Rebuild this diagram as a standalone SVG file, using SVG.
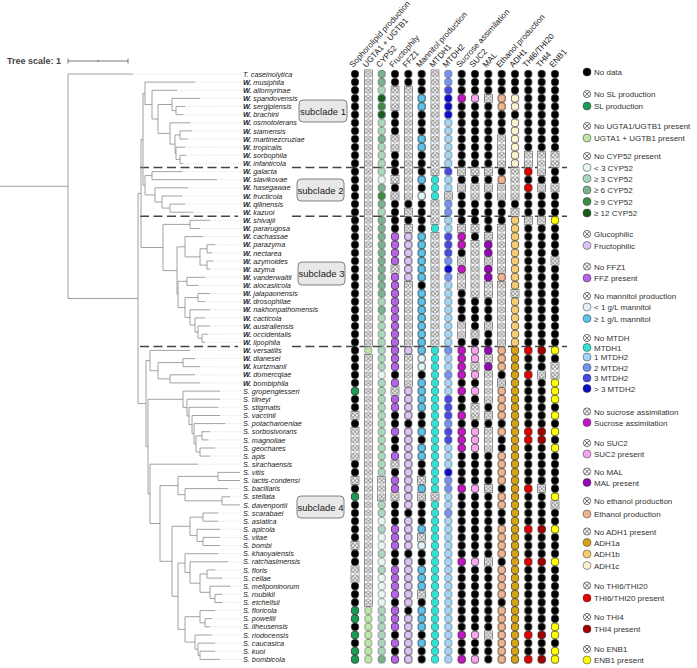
<svg xmlns="http://www.w3.org/2000/svg" width="697" height="668" viewBox="0 0 697 668">
<style>
text{font-family:"Liberation Sans",Arial,sans-serif}
.sp text{font-size:7.25px;font-style:italic;fill:#222}
.b{font-weight:bold}
.hd text{font-size:8.2px;fill:#222}
.lg text{font-size:8px;fill:#333}
.ld{stroke:#333;stroke-width:.5}
.tree{fill:none;stroke:#8a8a8a;stroke-width:.8}
.lead{fill:none;stroke:#c8c8c8;stroke-width:.6;stroke-dasharray:1 1.5}
.dash{stroke:#444;stroke-width:1.5;stroke-dasharray:9 4.5}
.n{fill:url(#pn);stroke:#555;stroke-width:.6}
.box{fill:#e8e8e8;stroke:#666;stroke-width:.8}
.bx text{font-size:9.5px;fill:#222;text-anchor:middle}
pattern circle{stroke:#333;stroke-width:.5}
</style>
<defs>
<pattern id="pk" x="-5" y="69.94" width="10" height="8.13" patternUnits="userSpaceOnUse"><circle cx="5" cy="4.065" r="3.8" fill="#000"/></pattern>
<pattern id="pn" x="-5" y="69.94" width="10" height="8.13" patternUnits="userSpaceOnUse"><rect width="10" height="8.13" fill="#fff"/><circle cx="5" cy="4.065" r="3.3" fill="none"/><path d="M2.7 1.765L7.3 6.365M7.3 1.765L2.7 6.365" stroke="#333" stroke-width=".6"/></pattern>
<pattern id="pg" x="-5" y="69.94" width="10" height="8.13" patternUnits="userSpaceOnUse"><circle cx="5" cy="4.065" r="3.8" fill="#1a9b55"/></pattern>
<pattern id="pL" x="-5" y="69.94" width="10" height="8.13" patternUnits="userSpaceOnUse"><circle cx="5" cy="4.065" r="3.8" fill="#bde3a8"/></pattern>
<pattern id="p0" x="-5" y="69.94" width="10" height="8.13" patternUnits="userSpaceOnUse"><circle cx="5" cy="4.065" r="3.8" fill="#e6f5ef"/></pattern>
<pattern id="p1" x="-5" y="69.94" width="10" height="8.13" patternUnits="userSpaceOnUse"><circle cx="5" cy="4.065" r="3.8" fill="#acd6bd"/></pattern>
<pattern id="p2" x="-5" y="69.94" width="10" height="8.13" patternUnits="userSpaceOnUse"><circle cx="5" cy="4.065" r="3.8" fill="#7db28c"/></pattern>
<pattern id="p3" x="-5" y="69.94" width="10" height="8.13" patternUnits="userSpaceOnUse"><circle cx="5" cy="4.065" r="3.8" fill="#3f8a48"/></pattern>
<pattern id="p4" x="-5" y="69.94" width="10" height="8.13" patternUnits="userSpaceOnUse"><circle cx="5" cy="4.065" r="3.8" fill="#1a5c1f"/></pattern>
<pattern id="pv" x="-5" y="69.94" width="10" height="8.13" patternUnits="userSpaceOnUse"><circle cx="5" cy="4.065" r="3.8" fill="#b464e6"/></pattern>
<pattern id="pl" x="-5" y="69.94" width="10" height="8.13" patternUnits="userSpaceOnUse"><circle cx="5" cy="4.065" r="3.8" fill="#dcc3f2"/></pattern>
<pattern id="pm" x="-5" y="69.94" width="10" height="8.13" patternUnits="userSpaceOnUse"><circle cx="5" cy="4.065" r="3.8" fill="#dff1fa"/></pattern>
<pattern id="pM" x="-5" y="69.94" width="10" height="8.13" patternUnits="userSpaceOnUse"><circle cx="5" cy="4.065" r="3.8" fill="#5ec1ea"/></pattern>
<pattern id="pt" x="-5" y="69.94" width="10" height="8.13" patternUnits="userSpaceOnUse"><circle cx="5" cy="4.065" r="3.8" fill="#33e2d2"/></pattern>
<pattern id="pb1" x="-5" y="69.94" width="10" height="8.13" patternUnits="userSpaceOnUse"><circle cx="5" cy="4.065" r="3.8" fill="#a3d4f5"/></pattern>
<pattern id="pb2" x="-5" y="69.94" width="10" height="8.13" patternUnits="userSpaceOnUse"><circle cx="5" cy="4.065" r="3.8" fill="#7393ee"/></pattern>
<pattern id="pb3" x="-5" y="69.94" width="10" height="8.13" patternUnits="userSpaceOnUse"><circle cx="5" cy="4.065" r="3.8" fill="#4548e2"/></pattern>
<pattern id="pb4" x="-5" y="69.94" width="10" height="8.13" patternUnits="userSpaceOnUse"><circle cx="5" cy="4.065" r="3.8" fill="#0b0bc8"/></pattern>
<pattern id="ps" x="-5" y="69.94" width="10" height="8.13" patternUnits="userSpaceOnUse"><circle cx="5" cy="4.065" r="3.8" fill="#c316c3"/></pattern>
<pattern id="pp" x="-5" y="69.94" width="10" height="8.13" patternUnits="userSpaceOnUse"><circle cx="5" cy="4.065" r="3.8" fill="#f5a6ef"/></pattern>
<pattern id="pa" x="-5" y="69.94" width="10" height="8.13" patternUnits="userSpaceOnUse"><circle cx="5" cy="4.065" r="3.8" fill="#9507b5"/></pattern>
<pattern id="pe" x="-5" y="69.94" width="10" height="8.13" patternUnits="userSpaceOnUse"><circle cx="5" cy="4.065" r="3.8" fill="#efb48f"/></pattern>
<pattern id="pA" x="-5" y="69.94" width="10" height="8.13" patternUnits="userSpaceOnUse"><circle cx="5" cy="4.065" r="3.8" fill="#d6a217"/></pattern>
<pattern id="pB" x="-5" y="69.94" width="10" height="8.13" patternUnits="userSpaceOnUse"><circle cx="5" cy="4.065" r="3.8" fill="#f6cd72"/></pattern>
<pattern id="pC" x="-5" y="69.94" width="10" height="8.13" patternUnits="userSpaceOnUse"><circle cx="5" cy="4.065" r="3.8" fill="#fcf2d2"/></pattern>
<pattern id="pr" x="-5" y="69.94" width="10" height="8.13" patternUnits="userSpaceOnUse"><circle cx="5" cy="4.065" r="3.8" fill="#e60000"/></pattern>
<pattern id="pR" x="-5" y="69.94" width="10" height="8.13" patternUnits="userSpaceOnUse"><circle cx="5" cy="4.065" r="3.8" fill="#a40000"/></pattern>
<pattern id="py" x="-5" y="69.94" width="10" height="8.13" patternUnits="userSpaceOnUse"><circle cx="5" cy="4.065" r="3.8" fill="#ffff00"/></pattern>
<g id="nx"><circle r="3.6" fill="#fff" stroke="#333" stroke-width=".7"/><path d="M-2.5-2.5L2.5 2.5M2.5-2.5L-2.5 2.5" stroke="#333" stroke-width=".7"/></g>
</defs>

<g id="scale">
<text x="7" y="64" font-size="9" font-weight="bold" fill="#444">Tree scale: 1</text>
<path d="M68 61H128M68 58.5V63.5M128 58.5V63.5M98 60V62" stroke="#555" stroke-width=".8" fill="none"/>
</g>

<g id="dashes">
<path class="dash" d="M140 167.5H238M292 167.5H567M140 216.3H238M292 216.3H567M140 346.4H238M292 346.4H567"/>
</g>

<g id="connectors">
<path class="lead" d="M133 74H241M195 82.1H241M177 90.3H241M200 98.4H241M185 106.5H241M183 114.7H241M190 122.8H241M192 130.9H241M188 139H241M185 147.2H241M186 155.3H241M183 163.4H241M182 171.6H241M217 179.7H241M188 187.8H241M182 196H241M185 204.1H241M193 212.2H241M210 220.3H241M200 228.5H241M203 236.6H241M215 244.7H241M212 252.9H241M213 261H241M210 269.1H241M205 277.3H241M198 285.4H241M210 293.5H241M205 301.6H241M210 309.8H241M205 317.9H241M210 326H241M208 334.2H241M205 342.3H241M190 350.4H241M195 358.6H241M200 366.7H241M195 374.8H241M200 382.9H241M220 391.1H241M220 399.2H241M218 407.3H241M220 415.5H241M225 423.6H241M210 431.7H241M208 439.9H241M215 448H241M210 456.1H241M198 464.2H241M228 488.6H241M230 496.8H241M218 513H241M218 521.2H241M220 529.3H241M220 537.4H241M220 545.5H241M218 553.7H241M228 561.8H241M215 569.9H241M222 578.1H241M230 586.2H241M222 594.3H241M222 602.5H241M215 610.6H241M212 618.7H241M210 626.8H241M212 635H241M215 643.1H241M215 651.2H241M220 659.4H241"/>
<path class="tree" d="M0 186.3H68M68 74V298.5M68 74H133M68 298.5H138M138 193.4V403.6M138 193.4H141M138 403.6H146M141 139.4V247.5M141 139.4H143M141 247.5H163M143 93.4V185.3M143 93.4H145M143 185.3H145M145 82.1V104.6M145 82.1H195M145 104.6H152M152 90.3V119M152 90.3H177M152 119H158M158 104.5V133.4M158 104.5H172M158 133.4H170M172 98.4V110.6M172 98.4H200M172 110.6H176M176 106.5V114.7M176 106.5H185M176 114.7H183M170 122.8V144.1M170 122.8H190M170 144.1H175M175 135V153.3M175 135H180M175 153.3H176M180 130.9V139M180 130.9H192M180 139H188M176 147.2V159.4M176 147.2H185M176 159.4H180M180 155.3V163.4M180 155.3H186M180 163.4H183M145 175.6V194.9M145 175.6H152M145 194.9H155M152 171.6V179.7M152 171.6H182M152 179.7H217M155 187.8V202M155 187.8H188M155 202H162M162 196V208.1M162 196H182M162 208.1H170M170 204.1V212.2M170 204.1H185M170 212.2H193M163 224.4V270.6M163 224.4H190M163 270.6H177M190 220.3V228.5M190 220.3H210M190 228.5H200M177 246.8V294.4M177 246.8H185M177 294.4H178M185 236.6V256.9M185 236.6H203M185 256.9H200M200 248.8V265.1M200 248.8H207M200 265.1H207M207 244.7V252.9M207 244.7H215M207 252.9H212M207 261V269.1M207 261H213M207 269.1H210M178 281.3V307.5M178 281.3H187M178 307.5H185M187 277.3V285.4M187 277.3H205M187 285.4H198M185 297.6V317.4M185 297.6H198M185 317.4H190M198 293.5V301.6M198 293.5H210M198 301.6H205M190 309.8V325M190 309.8H210M190 325H195M195 317.9V332.1M195 317.9H205M195 332.1H198M198 326V338.2M198 326H210M198 338.2H202M202 334.2V342.3M202 334.2H208M202 342.3H205M146 360.6V446.6M146 360.6H150M146 446.6H148M150 350.4V370.7M150 350.4H190M150 370.7H158M158 362.6V378.9M158 362.6H183M158 378.9H170M183 358.6V366.7M183 358.6H195M183 366.7H200M170 374.8V382.9M170 374.8H195M170 382.9H200M148 399.3V493.9M148 399.3H183M148 493.9H150M183 391.1V407.6M183 391.1H220M183 407.6H187M187 399.2V416M187 399.2H220M187 416H189M189 407.3V424.6M189 407.3H218M189 424.6H192M192 415.5V433.7M192 415.5H220M192 433.7H194M194 423.6V443.9M194 423.6H225M194 443.9H196M196 435.8V452M196 435.8H202M196 452H200M202 431.7V439.9M202 431.7H210M202 439.9H208M200 448V456.1M200 448H215M200 456.1H210M150 464.2V523.5M150 464.2H198M150 523.5H160M160 485.6V561.3M160 485.6H178M160 561.3H172M178 476.4V494.7M178 476.4H218M178 494.7H185M218 472.4V480.5M218 472.4H240M218 480.5H240M185 488.6V500.8M185 488.6H228M185 500.8H222M222 496.8V504.9M222 496.8H230M222 504.9H240M172 526.3V596.3M172 526.3H190M172 596.3H178M190 517.1V535.4M190 517.1H203M190 535.4H197M203 513V521.2M203 513H218M203 521.2H218M197 529.3V541.5M197 529.3H220M197 541.5H203M203 537.4V545.5M203 537.4H220M203 545.5H220M178 563.1V629.4M178 563.1H185M178 629.4H185M185 553.7V572.5M185 553.7H218M185 572.5H190M190 561.8V583.2M190 561.8H228M190 583.2H200M200 574V592.3M200 574H207M200 592.3H210M207 569.9V578.1M207 569.9H215M207 578.1H222M210 586.2V598.4M210 586.2H230M210 598.4H215M215 594.3V602.5M215 594.3H222M215 602.5H222M185 616.7V642.1M185 616.7H200M185 642.1H195M200 610.6V622.8M200 610.6H215M200 622.8H205M205 618.7V626.8M205 618.7H212M205 626.8H210M195 635V649.2M195 635H212M195 649.2H198M198 643.1V655.3M198 643.1H215M198 655.3H200M200 651.2V659.4M200 651.2H215M200 659.4H220"/>
</g>

<g id="labels" class="sp">
<text x="243" y="76.6">T. caseinolytica</text>
<text x="243" y="84.7"><tspan class="b">W.</tspan> musiphila</text>
<text x="243" y="92.9"><tspan class="b">W.</tspan> allomyrinae</text>
<text x="243" y="101"><tspan class="b">W.</tspan> spandovensis</text>
<text x="243" y="109.1"><tspan class="b">W.</tspan> sergipiensis</text>
<text x="243" y="117.3"><tspan class="b">W.</tspan> brachini</text>
<text x="243" y="125.4"><tspan class="b">W.</tspan> osmotolerans</text>
<text x="243" y="133.5"><tspan class="b">W.</tspan> siamensis</text>
<text x="243" y="141.6"><tspan class="b">W.</tspan> martinezcruziae</text>
<text x="243" y="149.8"><tspan class="b">W.</tspan> tropicalis</text>
<text x="243" y="157.9"><tspan class="b">W.</tspan> sorbophila</text>
<text x="243" y="166"><tspan class="b">W.</tspan> infanticola</text>
<text x="243" y="174.2"><tspan class="b">W.</tspan> galacta</text>
<text x="243" y="182.3"><tspan class="b">W.</tspan> slavikovae</text>
<text x="243" y="190.4"><tspan class="b">W.</tspan> hasegawae</text>
<text x="243" y="198.6"><tspan class="b">W.</tspan> fructicola</text>
<text x="243" y="206.7"><tspan class="b">W.</tspan> qilinensis</text>
<text x="243" y="214.8"><tspan class="b">W.</tspan> kazuoi</text>
<text x="243" y="222.9"><tspan class="b">W.</tspan> shivajii</text>
<text x="243" y="231.1"><tspan class="b">W.</tspan> pararugosa</text>
<text x="243" y="239.2"><tspan class="b">W.</tspan> cachassae</text>
<text x="243" y="247.3"><tspan class="b">W.</tspan> parazyma</text>
<text x="243" y="255.5"><tspan class="b">W.</tspan> nectarea</text>
<text x="243" y="263.6"><tspan class="b">W.</tspan> azymoides</text>
<text x="243" y="271.7"><tspan class="b">W.</tspan> azyma</text>
<text x="243" y="279.9"><tspan class="b">W.</tspan> vanderwaltii</text>
<text x="243" y="288"><tspan class="b">W.</tspan> alocasiicola</text>
<text x="243" y="296.1"><tspan class="b">W.</tspan> jalapaonensis</text>
<text x="243" y="304.2"><tspan class="b">W.</tspan> drosophilae</text>
<text x="243" y="312.4"><tspan class="b">W.</tspan> nakhonpathomensis</text>
<text x="243" y="320.5"><tspan class="b">W.</tspan> cacticola</text>
<text x="243" y="328.6"><tspan class="b">W.</tspan> australiensis</text>
<text x="243" y="336.8"><tspan class="b">W.</tspan> occidentalis</text>
<text x="243" y="344.9"><tspan class="b">W.</tspan> lipophila</text>
<text x="243" y="353"><tspan class="b">W.</tspan> versatilis</text>
<text x="243" y="361.2"><tspan class="b">W.</tspan> dianesei</text>
<text x="243" y="369.3"><tspan class="b">W.</tspan> kurtzmanii</text>
<text x="243" y="377.4"><tspan class="b">W.</tspan> domercqiae</text>
<text x="243" y="385.5"><tspan class="b">W.</tspan> bombiphila</text>
<text x="243" y="393.7">S. gropengiesseri</text>
<text x="243" y="401.8">S. tilneyi</text>
<text x="243" y="409.9">S. stigmatis</text>
<text x="243" y="418.1">S. vaccinii</text>
<text x="243" y="426.2">S. potacharoeniae</text>
<text x="243" y="434.3">S. sorbosivorans</text>
<text x="243" y="442.5">S. magnoliae</text>
<text x="243" y="450.6">S. geochares</text>
<text x="243" y="458.7">S. apis</text>
<text x="243" y="466.8">S. sirachaensis</text>
<text x="243" y="475">S. vitis</text>
<text x="243" y="483.1">S. lactis-condensi</text>
<text x="243" y="491.2">S. bacillaris</text>
<text x="243" y="499.4">S. stellata</text>
<text x="243" y="507.5">S. davenportii</text>
<text x="243" y="515.6">S. scarabaei</text>
<text x="243" y="523.8">S. asiatica</text>
<text x="243" y="531.9">S. apicola</text>
<text x="243" y="540">S. vitae</text>
<text x="243" y="548.1">S. bombi</text>
<text x="243" y="556.3">S. khaoyaiensis</text>
<text x="243" y="564.4">S. ratchasimensis</text>
<text x="243" y="572.5">S. floris</text>
<text x="243" y="580.7">S. cellae</text>
<text x="243" y="588.8">S. meliponinorum</text>
<text x="243" y="596.9">S. roubikii</text>
<text x="243" y="605.1">S. etchellsii</text>
<text x="243" y="613.2">S. floricola</text>
<text x="243" y="621.3">S. powellii</text>
<text x="243" y="629.4">S. ilheusensis</text>
<text x="243" y="637.6">S. riodocensis</text>
<text x="243" y="645.7">S. caucasica</text>
<text x="243" y="653.8">S. kuoi</text>
<text x="243" y="662">S. bombicola</text>
</g>

<g id="subclade1" class="bx"><rect class="box" x="299" y="100" width="48" height="22" rx="4"/><text x="323" y="114.5">subclade 1</text></g>
<g id="subclade2" class="bx"><rect class="box" x="297" y="179" width="47" height="22" rx="4"/><text x="320.5" y="193.5">subclade 2</text></g>
<g id="subclade3" class="bx"><rect class="box" x="298" y="262" width="47" height="23" rx="4"/><text x="321.5" y="277">subclade 3</text></g>
<g id="subclade4" class="bx"><rect class="box" x="297" y="496" width="47" height="22" rx="4"/><text x="320.5" y="510.5">subclade 4</text></g>

<g id="headers" class="hd">
<text transform="translate(353,68) rotate(-48)">Sophorolipid production</text>
<text transform="translate(366.3,68) rotate(-48)">UGTA1 + UGTB1</text>
<text transform="translate(379.7,68) rotate(-48)">CYP52</text>
<text transform="translate(393,68) rotate(-48)">Fructophily</text>
<text transform="translate(406.3,68) rotate(-48)">FFZ1</text>
<text transform="translate(419.7,68) rotate(-48)">Mannitol production</text>
<text transform="translate(433,68) rotate(-48)">MTDH1</text>
<text transform="translate(446.3,68) rotate(-48)">MTDH2</text>
<text transform="translate(459.7,68) rotate(-48)">Sucrose assimilation</text>
<text transform="translate(473,68) rotate(-48)">SUC2</text>
<text transform="translate(486.3,68) rotate(-48)">MAL</text>
<text transform="translate(499.7,68) rotate(-48)">Ethanol production</text>
<text transform="translate(513,68) rotate(-48)">ADH1</text>
<text transform="translate(526.3,68) rotate(-48)">THI6/THI20</text>
<text transform="translate(539.7,68) rotate(-48)">THI4</text>
<text transform="translate(553,68) rotate(-48)">ENB1</text>
</g>

<g id="matrix">
<g id="c1" transform="translate(355,0)">
<rect x="-4.3" width="8.6" y="69.94" height="593.49" fill="url(#pk)"/>
<rect x="-4.3" width="8.6" y="387.01" height="8.13" fill="url(#pg)"/>
<rect class="n" x="-4" width="8" y="411.4" height="8.13"/>
<rect class="n" x="-4" width="8" y="427.66" height="32.52"/>
<rect class="n" x="-4" width="8" y="476.44" height="8.13"/>
<rect x="-4.3" width="8.6" y="492.7" height="8.13" fill="url(#pg)"/>
<rect class="n" x="-4" width="8" y="541.48" height="8.13"/>
<rect class="n" x="-4" width="8" y="565.87" height="16.26"/>
<rect x="-4.3" width="8.6" y="606.52" height="16.26" fill="url(#pg)"/>
<rect x="-4.3" width="8.6" y="630.91" height="8.13" fill="url(#pg)"/>
<rect x="-4.3" width="8.6" y="647.17" height="16.26" fill="url(#pg)"/>
</g>
<g id="c2" transform="translate(368.33,0)">
<rect class="n" x="-4" width="8" y="69.94" height="276.42"/>
<rect x="-4.3" width="8.6" y="346.36" height="8.13" fill="url(#pL)"/>
<rect class="n" x="-4" width="8" y="354.49" height="252.03"/>
<rect x="-4.3" width="8.6" y="606.52" height="56.91" fill="url(#pL)"/>
</g>
<g id="c3" transform="translate(381.67,0)">
<rect x="-4.3" width="8.6" y="69.94" height="16.26" fill="url(#p2)"/>
<rect x="-4.3" width="8.6" y="86.2" height="8.13" fill="url(#p1)"/>
<rect x="-4.3" width="8.6" y="94.33" height="8.13" fill="url(#p4)"/>
<rect x="-4.3" width="8.6" y="102.46" height="8.13" fill="url(#p3)"/>
<rect x="-4.3" width="8.6" y="110.59" height="8.13" fill="url(#p4)"/>
<rect x="-4.3" width="8.6" y="118.72" height="16.26" fill="url(#p1)"/>
<rect x="-4.3" width="8.6" y="134.98" height="8.13" fill="url(#p2)"/>
<rect x="-4.3" width="8.6" y="143.11" height="32.52" fill="url(#p1)"/>
<rect x="-4.3" width="8.6" y="175.63" height="8.13" fill="url(#p0)"/>
<rect x="-4.3" width="8.6" y="183.76" height="8.13" fill="url(#p2)"/>
<rect x="-4.3" width="8.6" y="191.89" height="8.13" fill="url(#p3)"/>
<rect x="-4.3" width="8.6" y="200.02" height="8.13" fill="url(#p2)"/>
<rect x="-4.3" width="8.6" y="208.15" height="8.13" fill="url(#p1)"/>
<rect x="-4.3" width="8.6" y="216.28" height="81.3" fill="url(#p2)"/>
<rect x="-4.3" width="8.6" y="297.58" height="8.13" fill="url(#p1)"/>
<rect x="-4.3" width="8.6" y="305.71" height="8.13" fill="url(#p2)"/>
<rect x="-4.3" width="8.6" y="313.84" height="56.91" fill="url(#p1)"/>
<rect x="-4.3" width="8.6" y="370.75" height="8.13" fill="url(#p0)"/>
<rect x="-4.3" width="8.6" y="378.88" height="97.56" fill="url(#p1)"/>
<rect class="n" x="-4" width="8" y="476.44" height="24.39"/>
<rect x="-4.3" width="8.6" y="500.83" height="16.26" fill="url(#p1)"/>
<rect x="-4.3" width="8.6" y="517.09" height="8.13" fill="url(#p0)"/>
<rect x="-4.3" width="8.6" y="525.22" height="8.13" fill="url(#p1)"/>
<rect x="-4.3" width="8.6" y="533.35" height="16.26" fill="url(#p0)"/>
<rect x="-4.3" width="8.6" y="549.61" height="8.13" fill="url(#p1)"/>
<rect x="-4.3" width="8.6" y="557.74" height="8.13" fill="url(#p0)"/>
<rect x="-4.3" width="8.6" y="565.87" height="8.13" fill="url(#p1)"/>
<rect x="-4.3" width="8.6" y="574" height="32.52" fill="url(#p0)"/>
<rect x="-4.3" width="8.6" y="606.52" height="48.78" fill="url(#p1)"/>
<rect x="-4.3" width="8.6" y="655.3" height="8.13" fill="url(#p2)"/>
</g>
<g id="c4" transform="translate(395,0)">
<rect x="-4.3" width="8.6" y="69.94" height="593.49" fill="url(#pk)"/>
<rect class="n" x="-4" width="8" y="86.2" height="24.39"/>
<rect class="n" x="-4" width="8" y="134.98" height="16.26"/>
<rect class="n" x="-4" width="8" y="175.63" height="8.13"/>
<rect class="n" x="-4" width="8" y="191.89" height="8.13"/>
<rect x="-4.3" width="8.6" y="232.54" height="32.52" fill="url(#pv)"/>
<rect class="n" x="-4" width="8" y="265.06" height="8.13"/>
<rect x="-4.3" width="8.6" y="273.19" height="97.56" fill="url(#pv)"/>
<rect x="-4.3" width="8.6" y="378.88" height="8.13" fill="url(#pv)"/>
<rect class="n" x="-4" width="8" y="387.01" height="8.13"/>
<rect x="-4.3" width="8.6" y="395.14" height="16.26" fill="url(#pv)"/>
<rect x="-4.3" width="8.6" y="427.66" height="8.13" fill="url(#pv)"/>
<rect x="-4.3" width="8.6" y="452.05" height="8.13" fill="url(#pv)"/>
<rect class="n" x="-4" width="8" y="460.18" height="8.13"/>
<rect x="-4.3" width="8.6" y="476.44" height="16.26" fill="url(#pv)"/>
<rect class="n" x="-4" width="8" y="492.7" height="8.13"/>
<rect x="-4.3" width="8.6" y="525.22" height="24.39" fill="url(#pv)"/>
<rect x="-4.3" width="8.6" y="565.87" height="32.52" fill="url(#pv)"/>
<rect x="-4.3" width="8.6" y="606.52" height="24.39" fill="url(#pv)"/>
<rect x="-4.3" width="8.6" y="639.04" height="8.13" fill="url(#pv)"/>
<rect x="-4.3" width="8.6" y="655.3" height="8.13" fill="url(#pv)"/>
</g>
<g id="c5" transform="translate(408.33,0)">
<rect x="-4.3" width="8.6" y="69.94" height="593.49" fill="url(#pk)"/>
<rect class="n" x="-4" width="8" y="86.2" height="113.82"/>
<rect class="n" x="-4" width="8" y="208.15" height="8.13"/>
<rect class="n" x="-4" width="8" y="224.41" height="8.13"/>
<rect x="-4.3" width="8.6" y="232.54" height="48.78" fill="url(#pl)"/>
<rect class="n" x="-4" width="8" y="281.32" height="65.04"/>
<rect x="-4.3" width="8.6" y="346.36" height="8.13" fill="url(#pl)"/>
<rect class="n" x="-4" width="8" y="354.49" height="32.52"/>
<rect x="-4.3" width="8.6" y="387.01" height="32.52" fill="url(#pl)"/>
<rect x="-4.3" width="8.6" y="427.66" height="81.3" fill="url(#pl)"/>
<rect x="-4.3" width="8.6" y="517.09" height="32.52" fill="url(#pl)"/>
<rect x="-4.3" width="8.6" y="557.74" height="48.78" fill="url(#pl)"/>
<rect x="-4.3" width="8.6" y="614.65" height="48.78" fill="url(#pl)"/>
</g>
<g id="c6" transform="translate(421.67,0)">
<rect x="-4.3" width="8.6" y="69.94" height="593.49" fill="url(#pk)"/>
<rect x="-4.3" width="8.6" y="94.33" height="16.26" fill="url(#pM)"/>
<rect x="-4.3" width="8.6" y="134.98" height="16.26" fill="url(#pM)"/>
<rect x="-4.3" width="8.6" y="175.63" height="8.13" fill="url(#pM)"/>
<rect x="-4.3" width="8.6" y="191.89" height="8.13" fill="url(#pm)"/>
<rect x="-4.3" width="8.6" y="232.54" height="48.78" fill="url(#pM)"/>
<rect x="-4.3" width="8.6" y="289.45" height="65.04" fill="url(#pM)"/>
<rect x="-4.3" width="8.6" y="354.49" height="16.26" fill="url(#pm)"/>
<rect x="-4.3" width="8.6" y="378.88" height="32.52" fill="url(#pM)"/>
<rect x="-4.3" width="8.6" y="427.66" height="8.13" fill="url(#pM)"/>
<rect x="-4.3" width="8.6" y="443.92" height="16.26" fill="url(#pM)"/>
<rect class="n" x="-4" width="8" y="476.44" height="8.13"/>
<rect x="-4.3" width="8.6" y="484.57" height="8.13" fill="url(#pM)"/>
<rect class="n" x="-4" width="8" y="492.7" height="8.13"/>
<rect x="-4.3" width="8.6" y="525.22" height="8.13" fill="url(#pM)"/>
<rect class="n" x="-4" width="8" y="533.35" height="8.13"/>
<rect x="-4.3" width="8.6" y="541.48" height="8.13" fill="url(#pm)"/>
<rect x="-4.3" width="8.6" y="565.87" height="24.39" fill="url(#pM)"/>
<rect class="n" x="-4" width="8" y="590.26" height="8.13"/>
<rect x="-4.3" width="8.6" y="606.52" height="24.39" fill="url(#pM)"/>
<rect x="-4.3" width="8.6" y="639.04" height="8.13" fill="url(#pM)"/>
</g>
<g id="c7" transform="translate(435,0)">
<rect class="n" x="-4" width="8" y="69.94" height="105.69"/>
<rect x="-4.3" width="8.6" y="175.63" height="24.39" fill="url(#pt)"/>
<rect class="n" x="-4" width="8" y="200.02" height="24.39"/>
<rect x="-4.3" width="8.6" y="224.41" height="8.13" fill="url(#pt)"/>
<rect class="n" x="-4" width="8" y="232.54" height="113.82"/>
<rect x="-4.3" width="8.6" y="346.36" height="146.34" fill="url(#pt)"/>
<rect class="n" x="-4" width="8" y="492.7" height="8.13"/>
<rect x="-4.3" width="8.6" y="500.83" height="162.6" fill="url(#pt)"/>
</g>
<g id="c8" transform="translate(448.33,0)">
<rect x="-4.3" width="8.6" y="69.94" height="16.26" fill="url(#pb2)"/>
<rect x="-4.3" width="8.6" y="86.2" height="8.13" fill="url(#pb3)"/>
<rect x="-4.3" width="8.6" y="94.33" height="24.39" fill="url(#pb4)"/>
<rect x="-4.3" width="8.6" y="118.72" height="48.78" fill="url(#pb1)"/>
<rect x="-4.3" width="8.6" y="167.5" height="8.13" fill="url(#pb3)"/>
<rect x="-4.3" width="8.6" y="175.63" height="16.26" fill="url(#pb1)"/>
<rect class="n" x="-4" width="8" y="191.89" height="8.13"/>
<rect x="-4.3" width="8.6" y="200.02" height="16.26" fill="url(#pb2)"/>
<rect x="-4.3" width="8.6" y="216.28" height="16.26" fill="url(#pb1)"/>
<rect x="-4.3" width="8.6" y="232.54" height="24.39" fill="url(#pb3)"/>
<rect x="-4.3" width="8.6" y="256.93" height="8.13" fill="url(#pb2)"/>
<rect x="-4.3" width="8.6" y="265.06" height="8.13" fill="url(#pb4)"/>
<rect x="-4.3" width="8.6" y="273.19" height="8.13" fill="url(#pb2)"/>
<rect x="-4.3" width="8.6" y="281.32" height="65.04" fill="url(#pb1)"/>
<rect x="-4.3" width="8.6" y="346.36" height="8.13" fill="url(#pb2)"/>
<rect x="-4.3" width="8.6" y="354.49" height="16.26" fill="url(#pb1)"/>
<rect x="-4.3" width="8.6" y="370.75" height="8.13" fill="url(#pb2)"/>
<rect x="-4.3" width="8.6" y="378.88" height="16.26" fill="url(#pb1)"/>
<rect x="-4.3" width="8.6" y="395.14" height="24.39" fill="url(#pb3)"/>
<rect x="-4.3" width="8.6" y="419.53" height="8.13" fill="url(#pb2)"/>
<rect x="-4.3" width="8.6" y="427.66" height="16.26" fill="url(#pb3)"/>
<rect x="-4.3" width="8.6" y="443.92" height="24.39" fill="url(#pb1)"/>
<rect x="-4.3" width="8.6" y="468.31" height="8.13" fill="url(#pb4)"/>
<rect x="-4.3" width="8.6" y="476.44" height="16.26" fill="url(#pb2)"/>
<rect x="-4.3" width="8.6" y="492.7" height="16.26" fill="url(#pb1)"/>
<rect x="-4.3" width="8.6" y="508.96" height="8.13" fill="url(#pb2)"/>
<rect x="-4.3" width="8.6" y="517.09" height="146.34" fill="url(#pb1)"/>
</g>
<g id="c9" transform="translate(461.67,0)">
<rect x="-4.3" width="8.6" y="69.94" height="593.49" fill="url(#pk)"/>
<rect x="-4.3" width="8.6" y="94.33" height="8.13" fill="url(#ps)"/>
<rect class="n" x="-4" width="8" y="167.5" height="8.13"/>
<rect class="n" x="-4" width="8" y="183.76" height="8.13"/>
<rect class="n" x="-4" width="8" y="224.41" height="8.13"/>
<rect x="-4.3" width="8.6" y="232.54" height="16.26" fill="url(#ps)"/>
<rect class="n" x="-4" width="8" y="256.93" height="8.13"/>
<rect x="-4.3" width="8.6" y="265.06" height="8.13" fill="url(#ps)"/>
<rect class="n" x="-4" width="8" y="273.19" height="16.26"/>
<rect class="n" x="-4" width="8" y="321.97" height="16.26"/>
<rect x="-4.3" width="8.6" y="346.36" height="32.52" fill="url(#ps)"/>
<rect x="-4.3" width="8.6" y="387.01" height="8.13" fill="url(#ps)"/>
<rect x="-4.3" width="8.6" y="411.4" height="8.13" fill="url(#ps)"/>
<rect x="-4.3" width="8.6" y="427.66" height="24.39" fill="url(#ps)"/>
<rect x="-4.3" width="8.6" y="484.57" height="8.13" fill="url(#ps)"/>
<rect x="-4.3" width="8.6" y="557.74" height="8.13" fill="url(#ps)"/>
<rect x="-4.3" width="8.6" y="630.91" height="8.13" fill="url(#ps)"/>
<rect x="-4.3" width="8.6" y="655.3" height="8.13" fill="url(#ps)"/>
</g>
<g id="c10" transform="translate(475,0)">
<rect x="-4.3" width="8.6" y="69.94" height="593.49" fill="url(#pk)"/>
<rect x="-4.3" width="8.6" y="94.33" height="8.13" fill="url(#pp)"/>
<rect class="n" x="-4" width="8" y="167.5" height="8.13"/>
<rect class="n" x="-4" width="8" y="183.76" height="16.26"/>
<rect class="n" x="-4" width="8" y="224.41" height="8.13"/>
<rect class="n" x="-4" width="8" y="240.67" height="56.91"/>
<rect class="n" x="-4" width="8" y="330.1" height="8.13"/>
<rect x="-4.3" width="8.6" y="346.36" height="16.26" fill="url(#pp)"/>
<rect class="n" x="-4" width="8" y="362.62" height="8.13"/>
<rect x="-4.3" width="8.6" y="370.75" height="8.13" fill="url(#pp)"/>
<rect x="-4.3" width="8.6" y="387.01" height="8.13" fill="url(#pp)"/>
<rect class="n" x="-4" width="8" y="403.27" height="16.26"/>
<rect x="-4.3" width="8.6" y="427.66" height="24.39" fill="url(#pp)"/>
<rect x="-4.3" width="8.6" y="484.57" height="8.13" fill="url(#pp)"/>
<rect x="-4.3" width="8.6" y="557.74" height="8.13" fill="url(#pp)"/>
<rect x="-4.3" width="8.6" y="630.91" height="8.13" fill="url(#pp)"/>
<rect x="-4.3" width="8.6" y="655.3" height="8.13" fill="url(#pp)"/>
</g>
<g id="c11" transform="translate(488.33,0)">
<rect x="-4.3" width="8.6" y="69.94" height="593.49" fill="url(#pk)"/>
<rect class="n" x="-4" width="8" y="94.33" height="8.13"/>
<rect class="n" x="-4" width="8" y="167.5" height="8.13"/>
<rect class="n" x="-4" width="8" y="183.76" height="8.13"/>
<rect class="n" x="-4" width="8" y="232.54" height="8.13"/>
<rect x="-4.3" width="8.6" y="240.67" height="16.26" fill="url(#pa)"/>
<rect class="n" x="-4" width="8" y="256.93" height="8.13"/>
<rect x="-4.3" width="8.6" y="265.06" height="16.26" fill="url(#pa)"/>
<rect class="n" x="-4" width="8" y="281.32" height="16.26"/>
<rect class="n" x="-4" width="8" y="321.97" height="8.13"/>
<rect x="-4.3" width="8.6" y="346.36" height="8.13" fill="url(#pa)"/>
<rect class="n" x="-4" width="8" y="354.49" height="8.13"/>
<rect x="-4.3" width="8.6" y="362.62" height="8.13" fill="url(#pa)"/>
<rect class="n" x="-4" width="8" y="370.75" height="32.52"/>
<rect class="n" x="-4" width="8" y="411.4" height="8.13"/>
<rect class="n" x="-4" width="8" y="427.66" height="24.39"/>
<rect class="n" x="-4" width="8" y="484.57" height="8.13"/>
<rect class="n" x="-4" width="8" y="557.74" height="8.13"/>
<rect class="n" x="-4" width="8" y="630.91" height="8.13"/>
</g>
<g id="c12" transform="translate(501.67,0)">
<rect x="-4.3" width="8.6" y="69.94" height="593.49" fill="url(#pk)"/>
<rect x="-4.3" width="8.6" y="94.33" height="16.26" fill="url(#pe)"/>
<rect class="n" x="-4" width="8" y="134.98" height="32.52"/>
<rect x="-4.3" width="8.6" y="175.63" height="8.13" fill="url(#pe)"/>
<rect class="n" x="-4" width="8" y="183.76" height="16.26"/>
<rect class="n" x="-4" width="8" y="224.41" height="48.78"/>
<rect x="-4.3" width="8.6" y="273.19" height="8.13" fill="url(#pe)"/>
<rect class="n" x="-4" width="8" y="281.32" height="65.04"/>
<rect x="-4.3" width="8.6" y="346.36" height="24.39" fill="url(#pe)"/>
<rect class="n" x="-4" width="8" y="378.88" height="8.13"/>
<rect x="-4.3" width="8.6" y="387.01" height="32.52" fill="url(#pe)"/>
<rect x="-4.3" width="8.6" y="427.66" height="8.13" fill="url(#pe)"/>
<rect x="-4.3" width="8.6" y="452.05" height="32.52" fill="url(#pe)"/>
<rect x="-4.3" width="8.6" y="492.7" height="16.26" fill="url(#pe)"/>
<rect x="-4.3" width="8.6" y="525.22" height="32.52" fill="url(#pe)"/>
<rect x="-4.3" width="8.6" y="565.87" height="32.52" fill="url(#pe)"/>
<rect x="-4.3" width="8.6" y="606.52" height="56.91" fill="url(#pe)"/>
</g>
<g id="c13" transform="translate(515,0)">
<rect x="-4.3" width="8.6" y="69.94" height="593.49" fill="url(#pk)"/>
<rect x="-4.3" width="8.6" y="94.33" height="16.26" fill="url(#pC)"/>
<rect x="-4.3" width="8.6" y="118.72" height="48.78" fill="url(#pC)"/>
<rect class="n" x="-4" width="8" y="167.5" height="32.52"/>
<rect class="n" x="-4" width="8" y="208.15" height="8.13"/>
<rect x="-4.3" width="8.6" y="216.28" height="73.17" fill="url(#pB)"/>
<rect class="n" x="-4" width="8" y="289.45" height="8.13"/>
<rect x="-4.3" width="8.6" y="297.58" height="48.78" fill="url(#pB)"/>
<rect x="-4.3" width="8.6" y="346.36" height="317.07" fill="url(#pA)"/>
</g>
<g id="c14" transform="translate(528.33,0)">
<rect x="-4.3" width="8.6" y="69.94" height="593.49" fill="url(#pk)"/>
<rect class="n" x="-4" width="8" y="151.24" height="16.26"/>
<rect x="-4.3" width="8.6" y="167.5" height="8.13" fill="url(#pr)"/>
<rect x="-4.3" width="8.6" y="183.76" height="8.13" fill="url(#pr)"/>
<rect class="n" x="-4" width="8" y="216.28" height="8.13"/>
<rect x="-4.3" width="8.6" y="346.36" height="8.13" fill="url(#pr)"/>
<rect x="-4.3" width="8.6" y="370.75" height="8.13" fill="url(#pr)"/>
<rect x="-4.3" width="8.6" y="427.66" height="16.26" fill="url(#pr)"/>
<rect x="-4.3" width="8.6" y="484.57" height="8.13" fill="url(#pr)"/>
<rect x="-4.3" width="8.6" y="525.22" height="8.13" fill="url(#pr)"/>
<rect x="-4.3" width="8.6" y="557.74" height="8.13" fill="url(#pr)"/>
<rect x="-4.3" width="8.6" y="630.91" height="8.13" fill="url(#pr)"/>
<rect x="-4.3" width="8.6" y="655.3" height="8.13" fill="url(#pr)"/>
</g>
<g id="c15" transform="translate(541.67,0)">
<rect x="-4.3" width="8.6" y="69.94" height="593.49" fill="url(#pk)"/>
<rect class="n" x="-4" width="8" y="151.24" height="24.39"/>
<rect class="n" x="-4" width="8" y="183.76" height="8.13"/>
<rect class="n" x="-4" width="8" y="216.28" height="8.13"/>
<rect x="-4.3" width="8.6" y="346.36" height="8.13" fill="url(#pR)"/>
<rect class="n" x="-4" width="8" y="370.75" height="8.13"/>
<rect x="-4.3" width="8.6" y="427.66" height="16.26" fill="url(#pR)"/>
<rect class="n" x="-4" width="8" y="484.57" height="8.13"/>
<rect x="-4.3" width="8.6" y="525.22" height="8.13" fill="url(#pR)"/>
<rect x="-4.3" width="8.6" y="557.74" height="8.13" fill="url(#pR)"/>
<rect x="-4.3" width="8.6" y="630.91" height="8.13" fill="url(#pR)"/>
<rect x="-4.3" width="8.6" y="655.3" height="8.13" fill="url(#pR)"/>
</g>
<g id="c16" transform="translate(555,0)">
<rect x="-4.3" width="8.6" y="69.94" height="593.49" fill="url(#pk)"/>
<rect class="n" x="-4" width="8" y="151.24" height="16.26"/>
<rect class="n" x="-4" width="8" y="183.76" height="8.13"/>
<rect x="-4.3" width="8.6" y="216.28" height="8.13" fill="url(#py)"/>
<rect class="n" x="-4" width="8" y="256.93" height="8.13"/>
<rect x="-4.3" width="8.6" y="346.36" height="8.13" fill="url(#py)"/>
<rect class="n" x="-4" width="8" y="362.62" height="16.26"/>
<rect x="-4.3" width="8.6" y="378.88" height="24.39" fill="url(#py)"/>
<rect x="-4.3" width="8.6" y="411.4" height="8.13" fill="url(#py)"/>
<rect x="-4.3" width="8.6" y="427.66" height="8.13" fill="url(#py)"/>
<rect x="-4.3" width="8.6" y="443.92" height="8.13" fill="url(#py)"/>
<rect x="-4.3" width="8.6" y="492.7" height="8.13" fill="url(#py)"/>
<rect class="n" x="-4" width="8" y="500.83" height="8.13"/>
<rect x="-4.3" width="8.6" y="525.22" height="8.13" fill="url(#py)"/>
<rect x="-4.3" width="8.6" y="557.74" height="8.13" fill="url(#py)"/>
<rect x="-4.3" width="8.6" y="622.78" height="16.26" fill="url(#py)"/>
<rect x="-4.3" width="8.6" y="647.17" height="16.26" fill="url(#py)"/>
</g>
</g>

<g id="legend" class="lg">
<circle class="ld" cx="587" cy="72" r="4" fill="#000"/><text x="594" y="75">No data</text>
<use href="#nx" x="587" y="94"/><text x="594" y="97">No SL production</text>
<circle class="ld" cx="587" cy="106" r="4" fill="#1a9b55"/><text x="594" y="109">SL production</text>
<use href="#nx" x="587" y="126"/><text x="594" y="129">No UGTA1/UGTB1 present</text>
<circle class="ld" cx="587" cy="138" r="4" fill="#bde3a8"/><text x="594" y="141">UGTA1 + UGTB1 present</text>
<use href="#nx" x="587" y="156"/><text x="594" y="159">No CYP52 present</text>
<circle class="ld" cx="587" cy="167.5" r="4" fill="#e6f5ef"/><text x="594" y="170.5">&lt; 3 CYP52</text>
<circle class="ld" cx="587" cy="178.5" r="4" fill="#acd6bd"/><text x="594" y="181.5">≥ 3 CYP52</text>
<circle class="ld" cx="587" cy="190" r="4" fill="#7db28c"/><text x="594" y="193">≥ 6 CYP52</text>
<circle class="ld" cx="587" cy="201.5" r="4" fill="#3f8a48"/><text x="594" y="204.5">≥ 9 CYP52</text>
<circle class="ld" cx="587" cy="213" r="4" fill="#1a5c1f"/><text x="594" y="216">≥ 12 CYP52</text>
<use href="#nx" x="587" y="234"/><text x="594" y="237">Glucophilic</text>
<circle class="ld" cx="587" cy="245.5" r="4" fill="#dcc3f2"/><text x="594" y="248.5">Fructophilic</text>
<use href="#nx" x="587" y="266.5"/><text x="594" y="269.5">No FFZ1</text>
<circle class="ld" cx="587" cy="278" r="4" fill="#b464e6"/><text x="594" y="281">FFZ present</text>
<use href="#nx" x="587" y="296"/><text x="594" y="299">No mannitol production</text>
<circle class="ld" cx="587" cy="307" r="4" fill="#dff1fa"/><text x="594" y="310">&lt; 1 g/L mannitol</text>
<circle class="ld" cx="587" cy="318.5" r="4" fill="#5ec1ea"/><text x="594" y="321.5">≥ 1 g/L mannitol</text>
<use href="#nx" x="587" y="338"/><text x="594" y="341">No MTDH</text>
<circle class="ld" cx="587" cy="347.5" r="4" fill="#33e2d2"/><text x="594" y="350.5">MTDH1</text>
<circle class="ld" cx="587" cy="357" r="4" fill="#a3d4f5"/><text x="594" y="360">1 MTDH2</text>
<circle class="ld" cx="587" cy="367.5" r="4" fill="#7393ee"/><text x="594" y="370.5">2 MTDH2</text>
<circle class="ld" cx="587" cy="378" r="4" fill="#4548e2"/><text x="594" y="381">3 MTDH2</text>
<circle class="ld" cx="587" cy="388.5" r="4" fill="#0b0bc8"/><text x="594" y="391.5">&gt; 3 MTDH2</text>
<use href="#nx" x="587" y="411.5"/><text x="594" y="414.5">No sucrose assimilation</text>
<circle class="ld" cx="587" cy="422.5" r="4" fill="#c316c3"/><text x="594" y="425.5">Sucrose assimilation</text>
<use href="#nx" x="587" y="443"/><text x="594" y="446">No SUC2</text>
<circle class="ld" cx="587" cy="454" r="4" fill="#f5a6ef"/><text x="594" y="457">SUC2 present</text>
<use href="#nx" x="587" y="471.5"/><text x="594" y="474.5">No MAL</text>
<circle class="ld" cx="587" cy="482.5" r="4" fill="#9507b5"/><text x="594" y="485.5">MAL present</text>
<use href="#nx" x="587" y="501"/><text x="594" y="504">No ethanol production</text>
<circle class="ld" cx="587" cy="514" r="4" fill="#efb48f"/><text x="594" y="517">Ethanol production</text>
<use href="#nx" x="587" y="531.5"/><text x="594" y="534.5">No ADH1 present</text>
<circle class="ld" cx="587" cy="542.5" r="4" fill="#d6a217"/><text x="594" y="545.5">ADH1a</text>
<circle class="ld" cx="587" cy="554" r="4" fill="#f6cd72"/><text x="594" y="557">ADH1b</text>
<circle class="ld" cx="587" cy="565.5" r="4" fill="#fcf2d2"/><text x="594" y="568.5">ADH1c</text>
<use href="#nx" x="587" y="585.5"/><text x="594" y="588.5">No THI6/THI20</text>
<circle class="ld" cx="587" cy="598" r="4" fill="#e60000"/><text x="594" y="601">THI6/THI20 present</text>
<use href="#nx" x="587" y="617"/><text x="594" y="620">No THI4</text>
<circle class="ld" cx="587" cy="629" r="4" fill="#a40000"/><text x="594" y="632">THI4 present</text>
<use href="#nx" x="587" y="649"/><text x="594" y="652">No ENB1</text>
<circle class="ld" cx="587" cy="660" r="4" fill="#ffff00"/><text x="594" y="663">ENB1 present</text>
</g>
</svg>
